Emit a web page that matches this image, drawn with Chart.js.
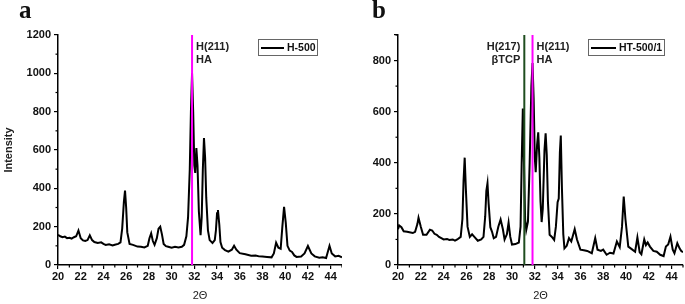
<!DOCTYPE html>
<html>
<head>
<meta charset="utf-8">
<script src="https://cdn.jsdelivr.net/npm/chart.js@4.4.1/dist/chart.umd.min.js"></script>
<style>
  body { margin: 0; background: #fff; }
  #wrap { position: relative; width: 685px; height: 304px; overflow: hidden; }
  canvas { position: absolute; top: 0; }
  .panel-letter { position: absolute; top: -4px; font: bold 25px "Liberation Serif", "DejaVu Serif", serif; color: #111; }
</style>
</head>
<body>
<div id="wrap">
  <canvas id="chart-a" width="342" height="304" style="left:0"></canvas>
  <canvas id="chart-b" width="343" height="304" style="left:342px"></canvas>
  <div class="panel-letter" style="left:19px">a</div>
  <div class="panel-letter" style="left:372px">b</div>
</div>
<script>
// --- Data: panel a (H-500) ---
const twoThetaA = [20.0, 20.2, 20.4, 20.6, 20.8, 21.0, 21.2, 21.4, 21.6, 21.8, 22.0, 22.2, 22.4, 22.6, 22.8, 23.0, 23.2, 23.5, 23.8, 24.0,
  24.2, 24.5, 24.8, 25.0, 25.3, 25.5, 25.65, 25.8, 25.9, 26.0, 26.1, 26.3, 26.6, 27.0, 27.3, 27.6, 27.9, 28.05, 28.2, 28.35,
  28.5, 28.7, 28.85, 29.0, 29.15, 29.3, 29.5, 29.7, 30.0, 30.3, 30.6, 30.9, 31.1, 31.3, 31.45, 31.6, 31.7, 31.8, 31.9, 32.0,
  32.08, 32.18, 32.28, 32.4, 32.55, 32.65, 32.75, 32.85, 32.95, 33.05, 33.2, 33.35, 33.6, 33.8, 33.9, 34.0, 34.08, 34.2, 34.3, 34.45,
  34.7, 35.0, 35.3, 35.5, 35.7, 36.0, 36.5, 37.0, 37.4, 37.7, 38.0, 38.4, 38.8, 39.0, 39.2, 39.4, 39.6, 39.75, 39.9, 40.05,
  40.2, 40.4, 40.6, 40.8, 41.0, 41.4, 41.7, 42.0, 42.3, 42.6, 43.0, 43.3, 43.6, 43.9, 44.1, 44.4, 44.7, 45.0];
const intensityA = [158, 150, 145, 148, 140, 142, 138, 145, 150, 180, 140, 128, 125, 130, 155, 130, 120, 115, 118, 110,
  105, 108, 102, 106, 110, 118, 190, 330, 388, 300, 170, 110, 105, 96, 95, 92, 100, 140, 165, 125,
  105, 140, 190, 200, 160, 110, 98, 95, 90, 95, 92, 95, 105, 150, 250, 500, 800, 1000, 800, 520,
  480, 610, 520, 280, 156, 250, 500, 662, 560, 350, 180, 130, 115, 130, 180, 270, 287, 210, 120, 90,
  78, 70, 80, 100, 80, 62, 56, 48, 50, 45, 44, 42, 40, 60, 116, 90, 85, 200, 304, 220,
  100, 75, 68, 50, 42, 44, 60, 99, 60, 45, 38, 40, 36, 100, 60, 45, 48, 40];

// --- Data: panel b (HT-500/1) ---
const twoThetaB = [20.0, 20.1, 20.3, 20.5, 20.8, 21.0, 21.3, 21.5, 21.7, 21.8, 22.0, 22.2, 22.5, 22.8, 23.0, 23.2, 23.4, 23.6, 23.8, 24.0,
  24.3, 24.5, 24.8, 25.0, 25.2, 25.5, 25.65, 25.75, 25.85, 25.95, 26.1, 26.3, 26.5, 26.7, 27.0, 27.3, 27.5, 27.65, 27.75, 27.85,
  27.95, 28.1, 28.25, 28.4, 28.6, 28.8, 29.0, 29.2, 29.35, 29.55, 29.7, 29.85, 30.0, 30.3, 30.6, 30.75, 30.85, 30.95, 31.05, 31.15,
  31.25, 31.4, 31.55, 31.7, 31.8, 31.9, 32.0, 32.08, 32.2, 32.3, 32.4, 32.5, 32.6, 32.7, 32.85, 32.95, 33.05, 33.15, 33.3, 33.5,
  33.7, 33.85, 34.0, 34.1, 34.2, 34.28, 34.38, 34.5, 34.6, 34.8, 35.0, 35.2, 35.5, 35.7, 36.0, 36.3, 36.6, 37.0, 37.3, 37.5,
  37.8, 38.0, 38.3, 38.6, 38.9, 39.2, 39.45, 39.65, 39.8, 39.95, 40.2, 40.5, 40.8, 41.0, 41.2, 41.35, 41.6, 41.75, 41.9, 42.1,
  42.4, 42.7, 43.0, 43.3, 43.5, 43.7, 43.9, 44.1, 44.25, 44.5, 44.7, 44.85, 45.0];
const intensityB = [140, 155, 148, 132, 130, 128, 125, 130, 160, 185, 150, 118, 118, 138, 135, 122, 118, 110, 105, 100,
  102, 98, 100, 95, 100, 110, 180, 330, 420, 300, 150, 110, 120, 110, 95, 100, 110, 190, 290, 320,
  240, 148, 130, 105, 110, 150, 178, 140, 100, 120, 166, 110, 80, 82, 88, 150, 400, 612, 400, 180,
  137, 170, 400, 700, 790, 650, 420, 363, 470, 519, 420, 250, 168, 220, 450, 515, 430, 250, 118, 110,
  98, 150, 246, 260, 440, 507, 300, 120, 65, 75, 105, 92, 140, 100, 60, 58, 55, 46, 105, 60,
  55, 60, 40, 48, 45, 92, 70, 150, 268, 180, 72, 62, 52, 108, 50, 42, 100, 78, 88, 72,
  55, 52, 40, 35, 72, 80, 111, 60, 46, 85, 65, 55, 50];

// --- Tick positions and reference peaks ---
const xTickLabels = [20, 22, 24, 26, 28, 30, 32, 34, 36, 38, 40, 42, 44];
const haPeak = 31.8;     // H(211) HA
const tcpPeak = 31.08;   // H(217) βTCP

const toPoints = (xs, ys) => xs.map((x, i) => ({ x: x, y: ys[i] }));

// --- Plugin: minor ticks, peak labels, legend box ---
const decorPlugin = {
  id: 'decor',
  afterDraw(chart) {
    const ctx = chart.ctx;
    const o = chart.options.plugins.decor;
    const xs = chart.scales.x, ys = chart.scales.y;
    const area = chart.chartArea;

    ctx.save();
    ctx.strokeStyle = '#000';
    ctx.lineWidth = 1.2;
    // minor ticks
    for (let v = xs.min + 1; v <= xs.max; v += 2) {
      const px = xs.getPixelForValue(v);
      ctx.beginPath();
      ctx.moveTo(px, area.bottom);
      ctx.lineTo(px, area.bottom + 2.5);
      ctx.stroke();
    }
    for (let v = 100; v <= ys.max; v += 200) {
      const py = ys.getPixelForValue(v);
      ctx.beginPath();
      ctx.moveTo(area.left, py);
      ctx.lineTo(area.left - 2.5, py);
      ctx.stroke();
    }

    // peak labels
    ctx.fillStyle = '#222';
    ctx.font = 'bold 11px "Liberation Sans", Arial, sans-serif';
    o.labels.forEach(l => {
      const px = xs.getPixelForValue(l.at);
      ctx.textAlign = l.side === 'left' ? 'right' : 'left';
      const tx = l.side === 'left' ? px - 4 : px + 4;
      ctx.textBaseline = 'middle';
      ctx.fillText(l.lines[0], tx, area.top + 12);
      ctx.fillText(l.lines[1], tx, area.top + 25);
    });

    // legend box
    const lg = o.legend;
    ctx.strokeStyle = '#666';
    ctx.lineWidth = 1;
    ctx.strokeRect(lg.x + 0.5, lg.y + 0.5, lg.w, 16);
    ctx.strokeStyle = '#000';
    ctx.lineWidth = 2;
    ctx.beginPath();
    ctx.moveTo(lg.x + 3, lg.y + 9);
    ctx.lineTo(lg.x + lg.line, lg.y + 9);
    ctx.stroke();
    ctx.fillStyle = '#111';
    ctx.font = 'bold 10.5px "Liberation Sans", Arial, sans-serif';
    ctx.textAlign = 'left';
    ctx.textBaseline = 'middle';
    ctx.fillText(lg.text, lg.x + lg.line + 3, lg.y + 9);
    ctx.restore();
  }
};

function makeChart(canvas, cfg) {
  const datasets = cfg.markers.map(m => ({
    data: [{ x: m.at, y: 0 }, { x: m.at, y: cfg.yMax }],
    borderColor: m.color,
    borderWidth: 2,
    pointRadius: 0,
    showLine: true
  }));
  datasets.push({
    data: toPoints(cfg.xs, cfg.ys),
    borderColor: '#000',
    borderWidth: 2,
    pointRadius: 0,
    tension: 0,
    showLine: true
  });

  return new Chart(canvas, {
    type: 'scatter',
    data: { datasets: datasets },
    options: {
      responsive: false,
      animation: false,
      devicePixelRatio: 1,
      layout: { padding: { top: 35, right: cfg.padRight, left: 0, bottom: 0 } },
      plugins: {
        legend: { display: false },
        tooltip: { enabled: false },
        decor: { labels: cfg.labels, legend: cfg.legend }
      },
      scales: {
        x: {
          type: 'linear',
          min: 20,
          max: 45,
          afterBuildTicks: s => { s.ticks = xTickLabels.map(v => ({ value: v })); },
          afterFit: s => { s.height = 39; },
          border: { display: true, color: '#000', width: 1.5 },
          grid: { display: true, drawOnChartArea: false, drawTicks: true, tickLength: 4, color: '#000', lineWidth: 1.2 },
          ticks: {
            padding: 1,
            color: '#111',
            maxRotation: 0,
            autoSkip: false,
            font: { family: '"Liberation Sans", Arial, sans-serif', size: 11, weight: 'bold' }
          },
          title: {
            display: true,
            text: '2Θ',
            color: '#222',
            padding: { top: 0, bottom: 1 },
            font: { family: '"Liberation Sans", Arial, sans-serif', size: 11 }
          }
        },
        y: {
          min: 0,
          max: cfg.yMax,
          afterFit: s => { s.width = cfg.yWidth; },
          border: { display: true, color: '#000', width: 1.5 },
          grid: { display: true, drawOnChartArea: false, drawTicks: true, tickLength: 4, color: '#000', lineWidth: 1.2 },
          ticks: {
            stepSize: 200,
            padding: 3,
            color: '#111',
            font: { family: '"Liberation Sans", Arial, sans-serif', size: 11, weight: 'bold' },
            callback: v => (v % 200 === 0 ? v : '')
          },
          title: {
            display: cfg.yTitle,
            text: 'Intensity',
            color: '#222',
            padding: { top: 2, bottom: 0 },
            font: { family: '"Liberation Sans", Arial, sans-serif', size: 11, weight: 'bold' }
          }
        }
      }
    },
    plugins: [decorPlugin]
  });
}

makeChart(document.getElementById('chart-a'), {
  xs: twoThetaA, ys: intensityA, yMax: 1200, yWidth: 58, yTitle: true, padRight: 0,
  markers: [{ at: haPeak, color: '#ff00ff' }],
  labels: [{ at: haPeak, side: 'right', lines: ['H(211)', 'HA'] }],
  legend: { x: 258, y: 39, w: 59, line: 26, text: 'H-500' }
});

makeChart(document.getElementById('chart-b'), {
  xs: twoThetaB, ys: intensityB, yMax: 900, yWidth: 56, yTitle: false, padRight: 2,
  markers: [{ at: haPeak, color: '#ff00ff' }, { at: tcpPeak, color: '#1f4d1f' }],
  labels: [
    { at: tcpPeak, side: 'left', lines: ['H(217)', 'βTCP'] },
    { at: haPeak, side: 'right', lines: ['H(211)', 'HA'] }
  ],
  legend: { x: 246, y: 39, w: 76, line: 28, text: 'HT-500/1' }
});
</script>
</body>
</html>
